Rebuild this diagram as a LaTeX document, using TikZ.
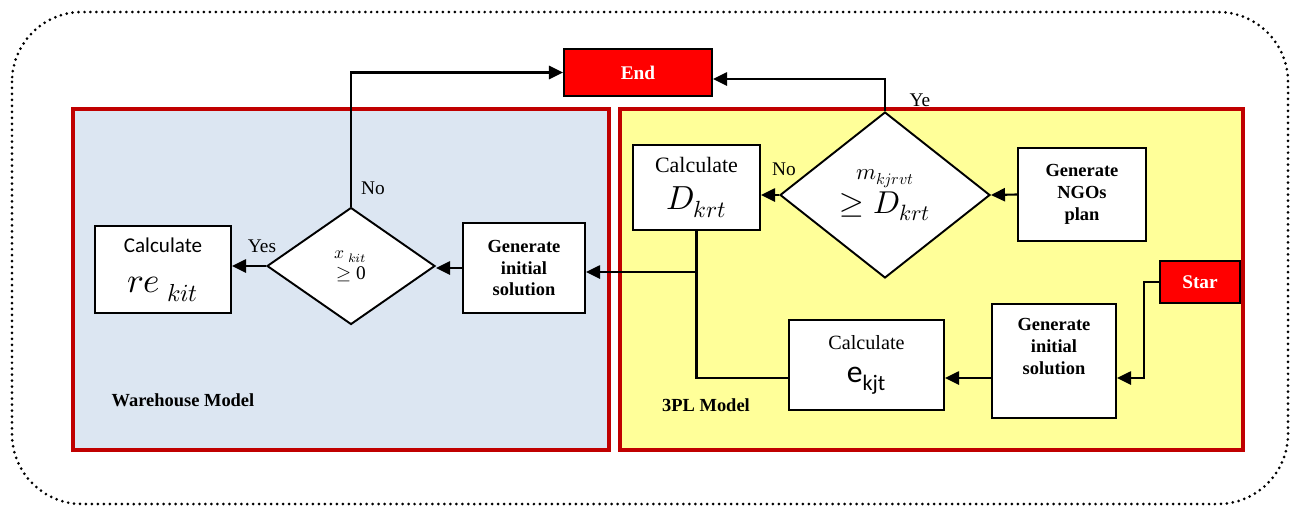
\documentclass[tikz,border=0pt]{standalone}
\usepackage{fontspec}
\usepackage{unicode-math}
\setmainfont{Liberation Serif}
\setmathfont{Latin Modern Math}
\newfontfamily\calibrifont{Carlito}
\usetikzlibrary{arrows.meta,shapes.geometric}
\definecolor{panelred}{HTML}{C00000}
\definecolor{whblue}{HTML}{DCE6F2}
\definecolor{plyellow}{HTML}{FFFF99}
\tikzset{
  panel/.style={draw=panelred, line width=1.8pt},
  procbox/.style={draw, fill=white, line width=1.1pt, inner sep=0pt, align=center},
  termbox/.style={draw, fill=red, line width=1.1pt, inner sep=0pt, text=white,
    font=\fontsize{11}{13}\selectfont\bfseries},
  decide/.style={diamond, draw, fill=white, line width=1.1pt, inner sep=0pt, align=center},
  flow/.style={line width=1.2pt, -{Triangle[length=8pt,width=7.5pt]}},
  link/.style={line width=1.2pt},
  gentext/.style={font=\fontsize{10.5}{12.5}\selectfont\bfseries},
  lbl/.style={font=\fontsize{11}{13}\selectfont}
}
\begin{document}
\begin{tikzpicture}[x=0.02cm,y=-0.02cm]
\useasboundingbox (0,0) rectangle (1292,508);

% outer frame
\draw[line width=1.7pt, line cap=round, dash pattern=on 0pt off 3.4pt, rounded corners=1.4cm] (12,12) rectangle (1288,504);

% panels
\draw[panel, fill=whblue] (73,109) rectangle (609,450);
\draw[panel, fill=plyellow] (620,109) rectangle (1243,450);
\node[font=\fontsize{10.5}{12.5}\selectfont\bfseries] (whlabel) at (183,400) {Warehouse Model};
\node[font=\fontsize{10.5}{12.5}\selectfont\bfseries] (pllabel) at (706,405) {3PL Model};

% terminals
\node[termbox, minimum width=2.96cm, minimum height=0.94cm] (end) at (638,72.5) {End};
\node[termbox, minimum width=1.6cm, minimum height=0.84cm] (start) at (1200,282) {Star};

% 3PL model
\node[procbox, gentext, minimum width=2.56cm, minimum height=1.86cm] (ngo) at (1082,194.5) {Generate\\NGOs\\plan};
\node[decide, minimum width=4.2cm, minimum height=3.32cm] (mtest) at (885,195)
  {\fontsize{13}{15}\selectfont$m_{kjrvt}$\\[1pt]\fontsize{18}{20}\selectfont$\geq D_{krt}$};
\node[procbox, minimum width=2.54cm, minimum height=1.7cm] (dcalc) at (696.5,187.5)
  {\fontsize{12.5}{14.5}\selectfont Calculate\\[7pt]\fontsize{19}{21}\selectfont$D_{krt}$};
\node[procbox, gentext, minimum width=2.48cm, minimum height=2.28cm] (geninit) at (1054,361)
  {Generate\\initial\\solution\\[4pt]\mbox{}};
\node[procbox, minimum width=3.1cm, minimum height=1.8cm] (ecalc) at (866.5,365)
  {\fontsize{11.5}{13.5}\selectfont Calculate\\[7pt]{\calibrifont\fontsize{18}{20}\selectfont e\textsubscript{kjt}}};

% warehouse model
\node[procbox, gentext, minimum width=2.44cm, minimum height=1.8cm] (genwh) at (524,268) {Generate\\initial\\solution};
\node[decide, minimum width=3.36cm, minimum height=2.34cm] (xtest) at (351,266)
  {\fontsize{10}{12}\selectfont$x_{\;kit}$\\[0pt]\fontsize{11}{13}\selectfont$\geq$ 0};
\node[procbox, minimum width=2.72cm, minimum height=1.74cm] (recalc) at (163,269.5)
  {\calibrifont\fontsize{12}{14}\selectfont Calculate\\[11pt]\fontsize{20}{22}\selectfont$re_{\;kit}$};

% helper rows
\coordinate (lowrow) at (0,378);
\coordinate (midrow) at (0,272);
\coordinate (toprow) at (0,79);

% connectors
\draw[flow] (start.west) -- ++(-15,0) |- (geninit.east |- lowrow);
\draw[flow] (geninit.west |- lowrow) -- (ecalc.east |- lowrow);
\draw[link] (ecalc.west |- lowrow) -| (dcalc.south);
\draw[flow] (dcalc.south |- midrow) -- (genwh.east |- midrow);
\draw[flow] (ngo.west) -- (mtest.east);
\draw[flow] (mtest.west) -- (mtest.west -| dcalc.east);
\draw[flow] (mtest.north) |- (end.east |- toprow);
\draw[flow] (genwh.west) -- (genwh.west -| xtest.east);
\draw[flow] (xtest.west) -- (xtest.west -| recalc.east);
\draw[flow] (xtest.north) |- (end.west);

% branch labels
\node[lbl] (noleft) at (373,188) {No};
\node[lbl] (yesleft) at (262,246) {Yes};
\node[lbl] (noright) at (784,169) {No};
\node[lbl] (yesright) at (920,100) {Ye};
\end{tikzpicture}
\end{document}
